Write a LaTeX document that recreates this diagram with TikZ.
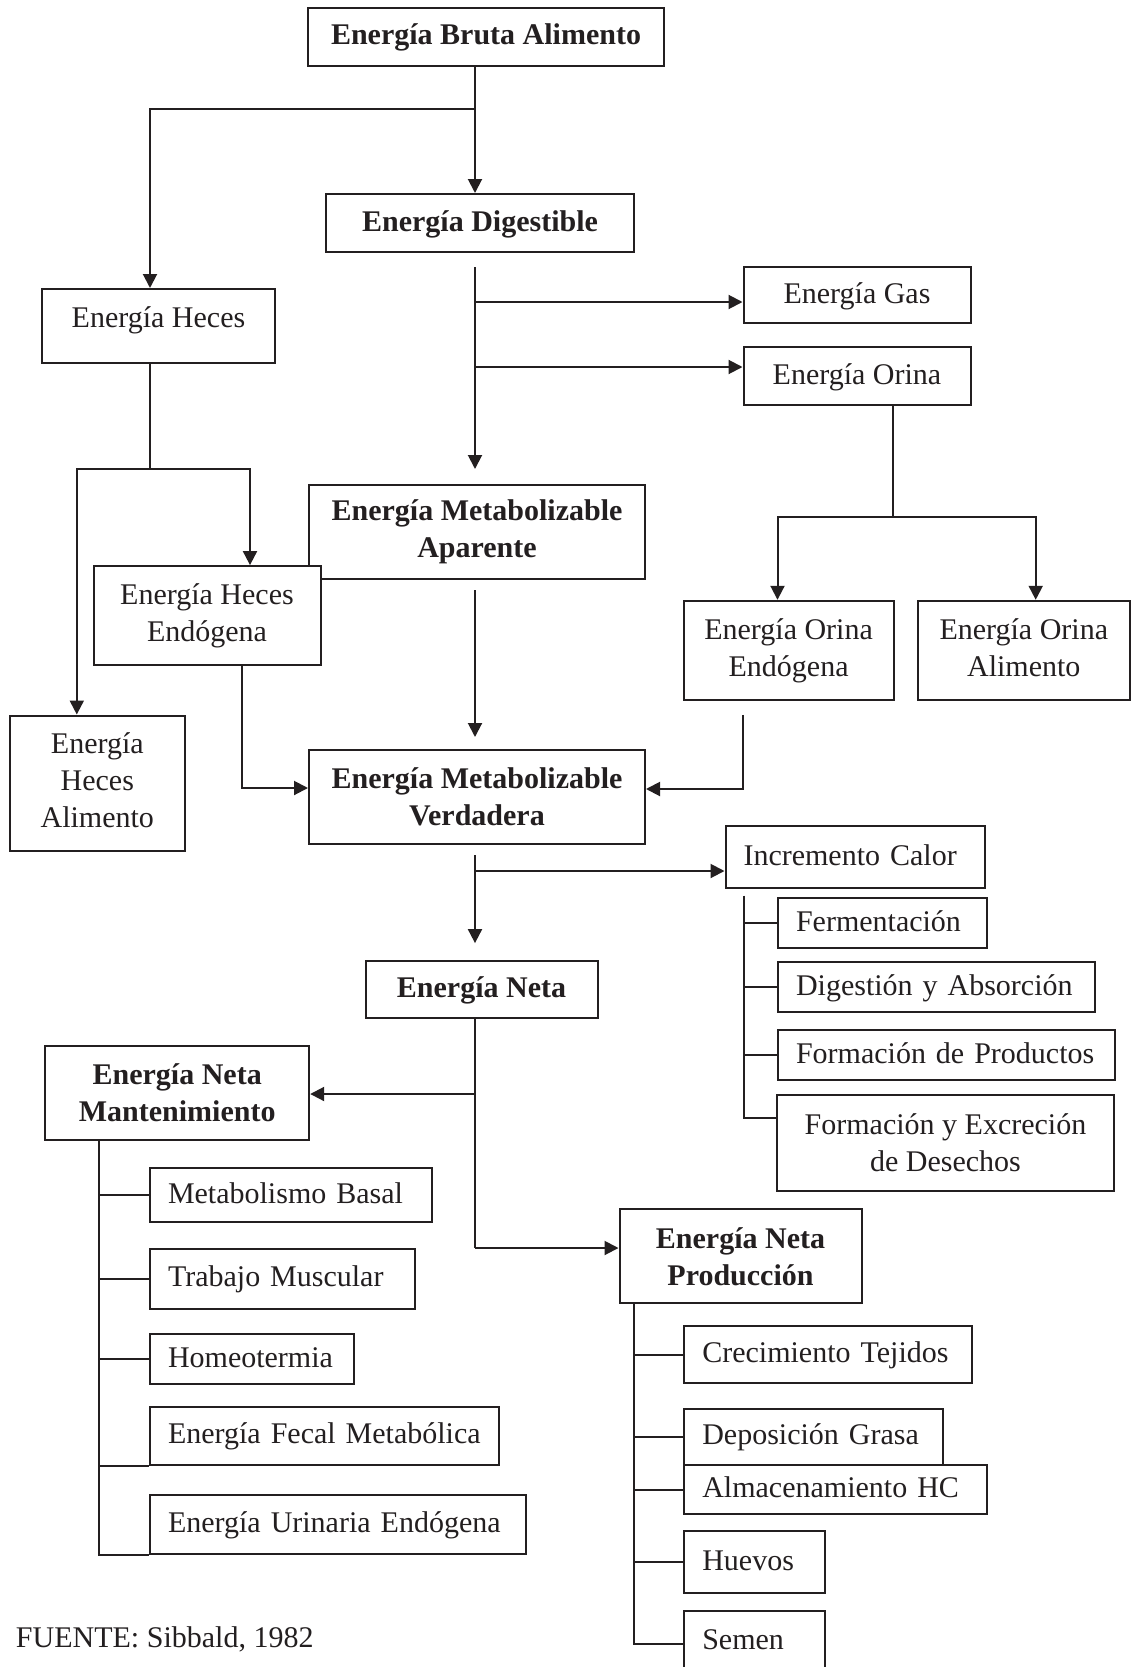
\documentclass[tikz,border=0pt]{standalone}
\usepackage{fontspec}
\setmainfont{Liberation Serif}
\usetikzlibrary{arrows.meta}
\definecolor{ink}{RGB}{35,31,32}

\begin{document}
\begin{tikzpicture}[x=1pt,y=-1pt,color=ink,line width=2pt,
    caja/.style={draw,fill=white,inner sep=0pt,align=center,font=\fontsize{30}{37}\selectfont},
    cajab/.style={caja,font=\fontsize{30}{37}\selectfont\bfseries},
    linea/.style={text height=22pt,text depth=6pt},
    subcaja/.style={draw,fill=white,anchor=north west,inner xsep=18pt,inner ysep=0pt,align=left,
      text height=22pt,text depth=6pt,font=\fontsize{30}{37}\selectfont},
    flecha/.style={-{Triangle[length=14pt,width=14pt]}},
    flechas/.style={{Triangle[length=14pt,width=14pt]}-{Triangle[length=14pt,width=14pt]}}]
  \useasboundingbox (0,0) rectangle (1132,1667);
  \clip (0,0) rectangle (1132,1667);
  % nodes
  \node[cajab,linea,minimum width=356pt,minimum height=58pt] (bruta) at (486,37) {Energía Bruta Alimento};
  \node[cajab,linea,minimum width=308pt,minimum height=58pt] (dig) at (480,223) {Energía Digestible};
  \node[caja,text height=22pt,text depth=20pt,minimum width=233pt,minimum height=74pt] (heces) at (158.5,326) {Energía Heces};
  \node[caja,linea,minimum width=227pt,minimum height=56pt] (gas) at (857,295) {Energía Gas};
  \node[caja,linea,minimum width=227pt,minimum height=58pt] (orina) at (857,376) {Energía Orina};
  \node[cajab,minimum width=336pt,minimum height=94pt] (mea) at (477,532) {Energía Metabolizable\\Aparente};
  \node[caja,minimum width=227pt,minimum height=99pt] (hend) at (207,615.6) {Energía Heces\\Endógena};
  \node[caja,minimum width=210pt,minimum height=99pt] (oend) at (788.6,650.3) {Energía Orina\\Endógena};
  \node[caja,minimum width=212pt,minimum height=99pt] (oalim) at (1023.8,650.3) {Energía Orina\\Alimento\vphantom{g}};
  \node[caja,minimum width=175pt,minimum height=135pt] (halim) at (97.3,783) {Energía\\Heces\\Alimento\vphantom{g}};
  \node[cajab,minimum width=336pt,minimum height=94pt] (mev) at (477,797) {Energía Metabolizable\\Verdadera};
  \node[subcaja,text width=223pt,minimum height=61.4pt] (inc) at (724.5,825.3) {Incremento Calor};
  \node[subcaja,text width=173pt,minimum height=50pt] (ferm) at (777,897) {Fermentación};
  \node[subcaja,text width=281.4pt,minimum height=50pt] (dige) at (777,961.3) {Digestión y Absorción};
  \node[subcaja,text width=301pt,minimum height=50pt] (prod) at (777,1029.3) {Formación de Productos};
  \node[caja,minimum width=337pt,minimum height=96pt] (des) at (945.5,1142.5) {Formación y Excreción\\de Desechos};
  \node[cajab,linea,minimum width=232pt,minimum height=57pt] (en) at (481.5,989.6) {Energía Neta};
  \node[cajab,minimum width=264pt,minimum height=94pt] (enm) at (177.2,1092.8) {Energía Neta\\Mantenimiento};
  \node[cajab,minimum width=242pt,minimum height=94pt] (enp) at (740.5,1256.3) {Energía Neta\\Producción};
  \node[subcaja,text width=246pt,minimum height=54pt] (mb) at (149,1167) {Metabolismo Basal};
  \node[subcaja,text width=229.3pt,minimum height=59.7pt] (tm) at (149,1248) {Trabajo Muscular};
  \node[subcaja,text width=168pt,minimum height=50.6pt] (ho) at (149,1332.8) {Homeotermia};
  \node[subcaja,text width=313pt,minimum height=58pt] (efm) at (149,1405.5) {Energía Fecal Metabólica};
  \node[subcaja,text width=340.4pt,minimum height=59.2pt] (eue) at (149,1494) {Energía Urinaria Endógena};
  \node[subcaja,text width=251.4pt,minimum height=57.3pt] (crec) at (683.3,1325) {Crecimiento Tejidos};
  \node[subcaja,text width=222.7pt,minimum height=56pt] (dep) at (683.3,1407.7) {Deposición Grasa};
  \node[subcaja,text width=266.4pt,minimum height=49.6pt] (alm) at (683.3,1463.7) {Almacenamiento HC};
  \node[subcaja,text width=104.4pt,minimum height=61.4pt] (hue) at (683.3,1530.3) {Huevos};
  \node[subcaja,text width=104.4pt,minimum height=60pt] (sem) at (683.3,1610) {Semen};
  \node[anchor=base west,inner sep=0pt,font=\fontsize{30}{37}\selectfont] (fuente) at (15,1647) {FUENTE: Sibbald, 1982};
  % branch points
  \coordinate (tr) at (475,0);
  \coordinate (b1) at (475,109);
  \coordinate (b2) at (150,109);
  \coordinate (b3) at (475,302);
  \coordinate (b4) at (475,367);
  \coordinate (b5) at (893,517);
  \coordinate (c1) at (777.5,517);
  \coordinate (c2) at (1035.7,517);
  \coordinate (b6) at (150,469);
  \coordinate (d1) at (76.8,469);
  \coordinate (d2) at (250,469);
  \coordinate (e1) at (242.4,788);
  \coordinate (e2) at (743,789);
  \coordinate (b7) at (475,871);
  \coordinate (f1) at (744,1117.7);
  \coordinate (b8) at (475,1094);
  \coordinate (b9) at (475,1248);
  \coordinate (g1) at (98.6,1140);
  \coordinate (h1) at (633.7,1644);
  % arrows
  \draw[flecha] (tr |- bruta.south) -- (tr |- dig.north);
  \draw[flecha] (b1) -- (b2) -- (b2 |- heces.north);
  \draw[flecha,shorten <=14pt,shorten >=15pt] (tr |- dig.south) -- (tr |- mea.north);
  \draw[flecha] (b3) -- (b3 -| gas.west);
  \draw[flecha] (b4) -- (b4 -| orina.west);
  \draw (b5 |- orina.south) -- (b5);
  \draw[flechas] (c1 |- oend.north) -- (c1) -- (c2) -- (c2 |- oalim.north);
  \draw (b6 |- heces.south) -- (b6);
  \draw[flechas] (d1 |- halim.north) -- (d1) -- (d2) -- (d2 |- hend.north);
  \draw[flecha,shorten <=10pt,shorten >=12pt] (tr |- mea.south) -- (tr |- mev.north);
  \draw[flecha] (e1 |- hend.south) -- (e1) -- (e1 -| mev.west);
  \draw[flecha,shorten <=14pt] (e2 |- oend.south) -- (e2) -- (e2 -| mev.east);
  \draw[flecha,shorten <=10pt,shorten >=17pt] (tr |- mev.south) -- (tr |- en.north);
  \draw[flecha] (b7) -- (b7 -| inc.west);
  \draw[shorten <=7pt] (f1 |- inc.south) -- (f1) -- (f1 -| des.west);
  \foreach \n in {ferm,dige,prod} \draw (f1 |- \n.west) -- (\n.west);
  \draw (tr |- en.south) -- (b9);
  \draw[flecha] (b8) -- (b8 -| enm.east);
  \draw[flecha] (b9) -- (b9 -| enp.west);
  \draw (g1 |- enm.south) -- (g1 |- eue.south west) -- (eue.south west);
  \draw (g1 |- efm.south west) -- (efm.south west);
  \foreach \n in {mb,tm,ho} \draw (g1 |- \n.west) -- (\n.west);
  \draw (h1 |- enp.south) -- (h1) -- (h1 -| sem.west);
  \foreach \n in {crec,dep,alm,hue} \draw (h1 |- \n.west) -- (\n.west);
\end{tikzpicture}
\end{document}
